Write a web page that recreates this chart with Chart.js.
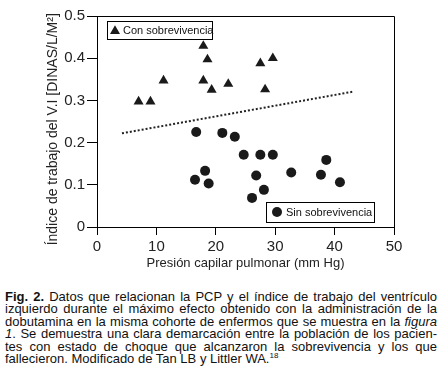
<!DOCTYPE html>
<html><head><meta charset="utf-8">
<script src="https://cdn.jsdelivr.net/npm/chart.js@4/dist/chart.umd.min.js"></script>
<style>
html,body{margin:0;padding:0;background:#fff;width:443px;height:380px;overflow:hidden}
#wrap{position:absolute;left:0;top:0;width:443px;height:280px}
#cap{position:absolute;left:5px;top:291px;width:432px;font-family:"Liberation Sans",Arial,sans-serif;font-size:13px;line-height:12.4px;color:#111}
#cap div{text-align:justify;text-align-last:justify}
#cap div.last{text-align:left;text-align-last:left}
#cap sup{font-size:8px;line-height:0;vertical-align:5px}
</style></head>
<body>
<div id="wrap"><canvas id="c"></canvas></div>
<div id="cap">
<div><b>Fig. 2.</b> Datos que relacionan la PCP y el índice de trabajo del ventrículo</div>
<div>izquierdo durante el máximo efecto obtenido con la administración de la</div>
<div>dobutamina en la misma cohorte de enfermos que se muestra en la <i>figura</i></div>
<div><i>1</i>. Se demuestra una clara demarcación entre la población de los pacien-</div>
<div>tes con estado de choque que alcanzaron la sobrevivencia y los que</div>
<div class="last">fallecieron. Modificado de Tan LB y Littler WA.<sup>18</sup></div>
</div>
<script>
const survX = [7, 9, 11.2, 17.9, 18.6, 17.9, 19.3, 22.1, 27.5, 29.6, 28.3];
const survY = [0.297, 0.297, 0.347, 0.429, 0.397, 0.347, 0.325, 0.339, 0.388, 0.400, 0.326];
const deadX = [16.7, 21.1, 23.2, 24.7, 27.5, 29.6, 38.6, 18.2, 16.5, 18.8, 26.8, 32.7, 37.7, 40.9, 28.1, 26.1];
const deadY = [0.225, 0.223, 0.214, 0.171, 0.171, 0.171, 0.159, 0.133, 0.112, 0.103, 0.122, 0.129, 0.124, 0.106, 0.088, 0.069];
const trendX = [4.2, 43.2];
const trendY = [0.222, 0.321];
const xTickLabels = ['0', '10', '20', '30', '40', '50'];
const yTickLabels = ['0', '0.1', '0.2', '0.3', '0.4', '0.5'];
const seriesNames = ['Con sobrevivencia', 'Sin sobrevivencia'];
const xTitle = 'Presión capilar pulmonar (mm Hg)';
const yTitle = 'Índice de trabajo del V.I [DINAS/L/M²]';

const pts = (xs, ys) => xs.map((x, i) => ({x: x, y: ys[i]}));
const INK = '#1a1a1a';
const FONT = '"Liberation Sans", Arial, sans-serif';

const framePlugin = {
  id: 'frame',
  afterDatasetsDraw(chart) {
    const {ctx, chartArea: a} = chart;
    ctx.save();
    ctx.strokeStyle = '#000';
    ctx.lineWidth = 1;
    ctx.beginPath();
    ctx.moveTo(a.left, a.top + 0.5); ctx.lineTo(a.right + 0.5, a.top + 0.5);
    ctx.lineTo(a.right + 0.5, a.bottom);
    ctx.stroke();
    ctx.restore();
  }
};

const boxLegend = {
  id: 'boxLegend',
  afterDatasetsDraw(chart, args, opts) {
    const {ctx, chartArea: a} = chart;
    ctx.save();
    opts.boxes.forEach(b => {
      const ds = chart.data.datasets[b.dataset];
      const x = a.left + b.dx, y = a.top + b.dy;
      ctx.fillStyle = '#fff';
      ctx.fillRect(x, y, b.w, b.h);
      ctx.strokeStyle = '#000';
      ctx.lineWidth = 1;
      ctx.strokeRect(x + 0.5, y + 0.5, b.w, b.h);
      ctx.fillStyle = INK;
      Chart.helpers.drawPoint(ctx, {pointStyle: ds.pointStyle, radius: ds.pointRadius, rotation: 0, borderWidth: 0}, x + b.mx, y + b.h / 2 + b.my);
      ctx.fillStyle = '#111';
      ctx.font = b.size + 'px ' + FONT;
      ctx.textBaseline = 'middle';
      ctx.textAlign = 'left';
      ctx.fillText(ds.label, x + b.tx, y + b.h / 2 + 1);
    });
    ctx.restore();
  }
};

new Chart(document.getElementById('c'), {
  type: 'scatter',
  data: {
    datasets: [
      {label: seriesNames[0], data: pts(survX, survY), pointStyle: 'triangle', pointRadius: 5.8, pointHoverRadius: 5.8,
       backgroundColor: INK, borderWidth: 0},
      {label: seriesNames[1], data: pts(deadX, deadY), pointStyle: 'circle', pointRadius: 5, pointHoverRadius: 5,
       backgroundColor: INK, borderWidth: 0},
      {type: 'line', label: 'trend', data: pts(trendX, trendY), showLine: true, borderColor: '#222', borderWidth: 2,
       borderDash: [2, 2], pointRadius: 0, fill: false}
    ]
  },
  options: {
    responsive: true, maintainAspectRatio: false, animation: false, devicePixelRatio: 1,
    layout: {padding: {top: 16, right: 49, left: 0, bottom: 0}},
    plugins: {
      legend: {display: false}, tooltip: {enabled: false},
      boxLegend: {boxes: [
        {dataset: 0, dx: 10, dy: 5, w: 105, h: 18, mx: 8, my: 1, tx: 16, size: 11},
        {dataset: 1, dx: 169, dy: 186, w: 108, h: 20, mx: 11, my: 0, tx: 20, size: 11}
      ]}
    },
    scales: {
      x: {
        type: 'linear', min: 0, max: 50,
        afterFit: s => { s.height = 53; },
        border: {display: true, color: '#000', width: 1},
        grid: {drawOnChartArea: false, drawTicks: true, tickLength: 8, color: '#000'},
        ticks: {stepSize: 10, padding: 3, color: '#222', font: {family: FONT, size: 15},
                callback: (v, i) => xTickLabels[i]},
        title: {display: true, text: xTitle, color: '#222', font: {family: FONT, size: 13}, padding: {top: 0, bottom: 9}}
      },
      y: {
        type: 'linear', min: 0, max: 0.5,
        afterFit: s => { s.width = 97; },
        border: {display: true, color: '#000', width: 1},
        grid: {drawOnChartArea: false, drawTicks: true, tickLength: 10, color: '#000'},
        ticks: {stepSize: 0.1, padding: 2, color: '#222', font: {family: FONT, size: 15},
                callback: (v, i) => yTickLabels[i]},
        title: {display: true, text: yTitle + '    ', color: '#222', font: {family: FONT, size: 14}, padding: {top: 45, bottom: 0}}
      }
    }
  },
  plugins: [framePlugin, boxLegend]
});
</script>
</body></html>
